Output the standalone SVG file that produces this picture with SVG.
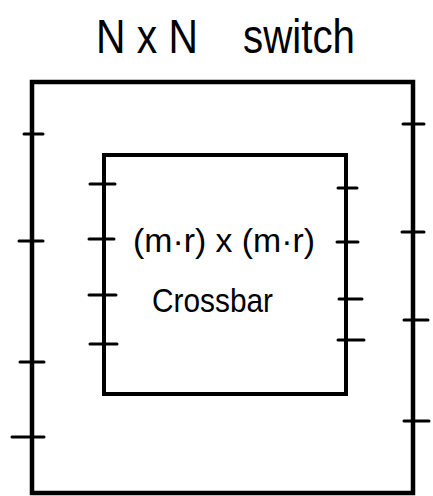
<svg xmlns="http://www.w3.org/2000/svg" width="433" height="496" viewBox="0 0 433 496">
<style>
.box{fill:none;stroke:#000;stroke-linejoin:miter}
.outer{stroke-width:4.5}
.inner{stroke-width:4}
.tick{stroke:#000;stroke-width:3;stroke-linecap:round}
.lbl{font-family:"Liberation Sans","DejaVu Sans",sans-serif;fill:#000}
</style>
<rect width="433" height="496" fill="#fff"/>
<g id="title">
<text class="lbl" x="96" y="53" font-size="49" textLength="102" lengthAdjust="spacingAndGlyphs">N x N</text>
<text class="lbl" x="243" y="53" font-size="49" textLength="112" lengthAdjust="spacingAndGlyphs">switch</text>
</g>
<g id="switch">
<rect class="box outer" x="32" y="82" width="381" height="411"/>
<line class="tick" x1="24" y1="134" x2="43" y2="134"/>
<line class="tick" x1="19" y1="241" x2="43" y2="241"/>
<line class="tick" x1="20" y1="362" x2="44" y2="362"/>
<line class="tick" x1="12" y1="437" x2="44" y2="437"/>
<line class="tick" x1="403" y1="124" x2="424" y2="124"/>
<line class="tick" x1="402" y1="232" x2="424" y2="232"/>
<line class="tick" x1="404" y1="320" x2="428" y2="320"/>
<line class="tick" x1="404" y1="421" x2="429" y2="421"/>
</g>
<g id="crossbar">
<rect class="box inner" x="104" y="155" width="242" height="239"/>
<line class="tick" x1="90" y1="184" x2="115" y2="184"/>
<line class="tick" x1="89" y1="239" x2="114" y2="239"/>
<line class="tick" x1="89" y1="295" x2="116" y2="295"/>
<line class="tick" x1="90" y1="344" x2="117" y2="344"/>
<line class="tick" x1="338" y1="188" x2="357" y2="188"/>
<line class="tick" x1="337" y1="242" x2="358" y2="242"/>
<line class="tick" x1="339" y1="299" x2="362" y2="299"/>
<line class="tick" x1="338" y1="340" x2="364" y2="340"/>
<text class="lbl" x="133" y="252" font-size="34" textLength="182" lengthAdjust="spacingAndGlyphs">(m·r) x (m·r)</text>
<text class="lbl" x="152" y="312" font-size="34" textLength="121" lengthAdjust="spacingAndGlyphs">Crossbar</text>
</g>
<g id="connectors"/>
</svg>
